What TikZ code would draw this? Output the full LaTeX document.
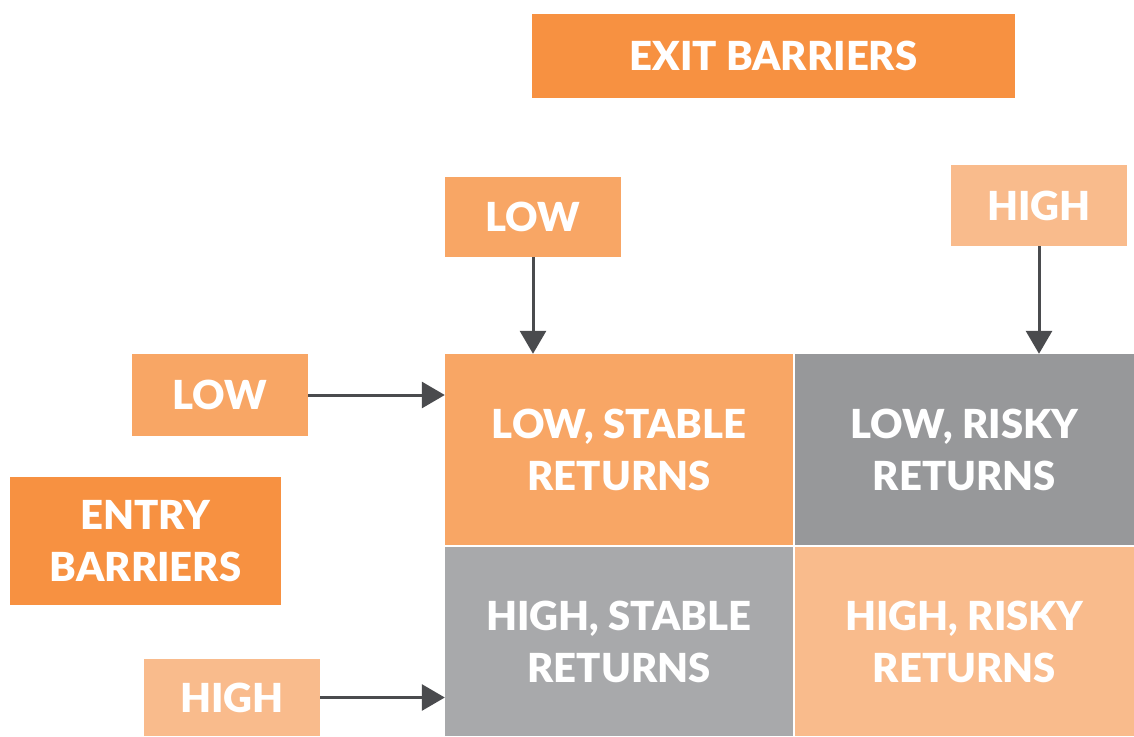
\documentclass[tikz,border=0pt]{standalone}
\usepackage{fontspec}
\setmainfont{Lato}[BoldFont={* Black}]
\usetikzlibrary{arrows.meta}
\definecolor{orDark}{HTML}{F79141}
\definecolor{orMid}{HTML}{F8A665}
\definecolor{orLight}{HTML}{F9BB8C}
\definecolor{grDark}{HTML}{97989A}
\definecolor{grLight}{HTML}{A8A9AB}
\definecolor{arrowc}{HTML}{4A4B4E}
\tikzset{
  lbl/.style={inner sep=0pt, text=white, align=center,
    font=\fontsize{40}{52}\selectfont\bfseries},
  arr/.style={draw=arrowc, line width=3pt, -{Triangle[length=23pt,width=26pt]}}
}
\begin{document}
\begin{tikzpicture}[x=1pt,y=-1pt]
\useasboundingbox (0,0) rectangle (1134,736);
\node[lbl, fill=orDark, minimum width=483pt, minimum height=84pt] (exit) at (773.5,56) {EXIT BARRIERS};
\node[lbl, fill=orMid, minimum width=176pt, minimum height=80pt] (lowT) at (533,217) {LOW};
\node[lbl, fill=orLight, minimum width=176pt, minimum height=81pt] (highT) at (1039,205.5) {HIGH};
\node[lbl, fill=orMid, minimum width=176pt, minimum height=82pt] (lowL) at (220,395) {LOW};
\node[lbl, fill=orDark, minimum width=271pt, minimum height=128pt] (entry) at (145.5,541) {ENTRY\\BARRIERS};
\node[lbl, fill=orLight, minimum width=176pt, minimum height=77pt] (highL) at (232,697.5) {HIGH};
\node[lbl, fill=orMid, minimum width=348pt, minimum height=191pt] (c11) at (619,449.5) {LOW, STABLE\\RETURNS};
\node[lbl, fill=grDark, minimum width=339pt, minimum height=191pt] (c12) at (964.5,449.5) {LOW, RISKY\\RETURNS};
\node[lbl, fill=grLight, minimum width=348pt, minimum height=189pt] (c21) at (619,641.5) {HIGH, STABLE\\RETURNS};
\node[lbl, fill=orLight, minimum width=339pt, minimum height=189pt] (c22) at (964.5,641.5) {HIGH, RISKY\\RETURNS};
\draw[arr] (lowT.south) -- (lowT.south |- c11.north);
\draw[arr] (highT.south) -- (highT.south |- c12.north);
\draw[arr] (lowL.east) -- (lowL.east -| c11.west);
\draw[arr] (highL.east) -- (highL.east -| c21.west);
\end{tikzpicture}
\end{document}
